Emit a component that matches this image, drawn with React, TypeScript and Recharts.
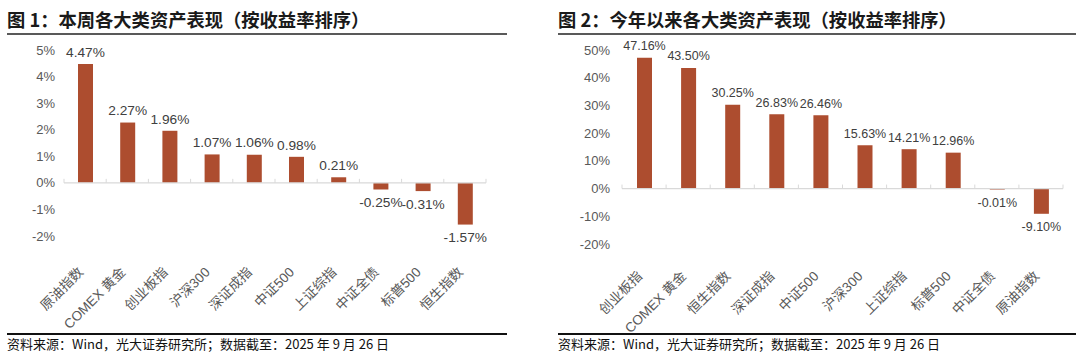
import React from 'react';
import { BarChart, Bar, XAxis, YAxis, ReferenceLine, LabelList } from 'recharts';

const weekCategories = ['原油指数', 'COMEX 黄金', '创业板指', '沪深300', '深证成指', '中证500', '上证综指', '中证全债', '标普500', '恒生指数'];
const weekValues = [4.47, 2.27, 1.96, 1.07, 1.06, 0.98, 0.21, -0.25, -0.31, -1.57];
const weekTicks = [-2, -1, 0, 1, 2, 3, 4, 5];

const ytdCategories = ['创业板指', 'COMEX 黄金', '恒生指数', '深证成指', '中证500', '沪深300', '上证综指', '标普500', '中证全债', '原油指数'];
const ytdValues = [47.16, 43.5, 30.25, 26.83, 26.46, 15.63, 14.21, 12.96, -0.01, -9.1];
const ytdTicks = [-20, -10, 0, 10, 20, 30, 40, 50];

const title1 = '图 1：本周各大类资产表现（按收益率排序）';
const title2 = '图 2：今年以来各大类资产表现（按收益率排序）';
const footer = '资料来源：Wind，光大证券研究所；数据截至：2025 年 9 月 26 日';

const BAR = '#AD4D2F';
const FONT = '"Liberation Sans", Arial, "Noto Sans CJK SC", sans-serif';

const weekData = weekCategories.map((name, i) => ({ name, value: weekValues[i] }));
const ytdData = ytdCategories.map((name, i) => ({ name, value: ytdValues[i] }));

const makeZeroLine = (n: number) => (props: any) => {
  const { x1, x2, y1 } = props;
  const step = (x2 - x1) / n;
  const ticks = [];
  for (let i = 0; i <= n; i++) {
    const x = x1 + step * i;
    ticks.push(<line key={i} x1={x} x2={x} y1={y1} y2={y1 - 4} stroke="#d9d9d9" strokeWidth={1} />);
  }
  return (
    <g>
      <line x1={x1} x2={x2} y1={y1} y2={y1} stroke="#d9d9d9" strokeWidth={1.2} />
      {ticks}
    </g>
  );
};

const makeLabel = (fontSize: number) => (props: any) => {
  const { x, y, width, height, value } = props;
  const top = Math.min(y, y + height);
  const bottom = Math.max(y, y + height);
  const cx = x + width / 2;
  const cy = value >= 0 ? top - 12 : bottom + 13;
  return (
    <text x={cx} y={cy} dy="0.35em" textAnchor="middle" fontSize={fontSize} fill="#404040" fontFamily={FONT}>
      {value.toFixed(2)}%
    </text>
  );
};

const makeTick = (dx: number, dy: number) => (props: any) => {
  const { x, y, payload } = props;
  const ax = x + dx;
  const ay = y + dy;
  return (
    <text x={ax} y={ay} transform={`rotate(-45, ${ax}, ${ay})`} textAnchor="end" fontSize={13.5} fill="#595959" fontFamily={FONT}>
      {payload.value}
    </text>
  );
};

const Panel = ({ lineStart, lineEnd, title }: any) => (
  <>
    <div style={{ position: 'absolute', left: lineStart, top: 8, fontSize: 18.3, fontWeight: 'bold', color: '#1a1a1a', fontFamily: '"Noto Sans CJK SC", sans-serif', whiteSpace: 'nowrap', lineHeight: '22px' }}>
      {title}
    </div>
    <div style={{ position: 'absolute', left: lineStart, top: 33, width: lineEnd - lineStart, height: 2, background: '#595959' }} />
    <div style={{ position: 'absolute', left: lineStart, top: 333, width: lineEnd - lineStart, height: 1.5, background: '#111' }} />
    <div style={{ position: 'absolute', left: lineStart, top: 335, fontSize: 13, color: '#111', fontFamily: '"Noto Sans CJK SC", sans-serif', whiteSpace: 'nowrap', lineHeight: '17px' }}>
      {footer}
    </div>
  </>
);

export default function App() {
  return (
    <div style={{ position: 'absolute', left: 0, top: 0, width: 1080, height: 358, background: '#fff', overflow: 'hidden' }}>
      <Panel lineStart={7} lineEnd={507} title={title1} />
      <Panel lineStart={558} lineEnd={1076} title={title2} />

      <div style={{ position: 'absolute', left: 0, top: 0 }}>
        <BarChart width={540} height={358} data={weekData} margin={{ top: 50, right: 54, left: 0, bottom: 4 }}>
          <YAxis
            type="number"
            domain={[-2, 5]}
            ticks={weekTicks}
            width={64}
            axisLine={false}
            tickLine={false}
            tickMargin={3}
            tickFormatter={(v: number) => `${v}%`}
            tick={{ fontSize: 13, fill: '#595959', fontFamily: FONT }}
            interval={0}
          />
          <XAxis dataKey="name" height={118} axisLine={false} tickLine={false} interval={0} tick={makeTick(-1, 29)} />
          <ReferenceLine y={0} shape={makeZeroLine(weekData.length)} ifOverflow="extendDomain" />
          <Bar dataKey="value" fill={BAR} barSize={15} isAnimationActive={false}>
            <LabelList dataKey="value" content={makeLabel(13.7)} />
          </Bar>
        </BarChart>
      </div>

      <div style={{ position: 'absolute', left: 540, top: 0 }}>
        <BarChart width={540} height={358} data={ytdData} margin={{ top: 50, right: 17, left: 0, bottom: 4 }}>
          <YAxis
            type="number"
            domain={[-20, 50]}
            ticks={ytdTicks}
            width={82}
            axisLine={false}
            tickLine={false}
            tickMargin={6}
            tickFormatter={(v: number) => `${v}%`}
            tick={{ fontSize: 13, fill: '#595959', fontFamily: FONT }}
            interval={0}
          />
          <XAxis dataKey="name" height={110} axisLine={false} tickLine={false} interval={0} tick={makeTick(-1, 25)} />
          <ReferenceLine y={0} shape={makeZeroLine(ytdData.length)} ifOverflow="extendDomain" />
          <Bar dataKey="value" fill={BAR} barSize={15} minPointSize={1} isAnimationActive={false}>
            <LabelList dataKey="value" content={makeLabel(12.5)} />
          </Bar>
        </BarChart>
      </div>
    </div>
  );
}
